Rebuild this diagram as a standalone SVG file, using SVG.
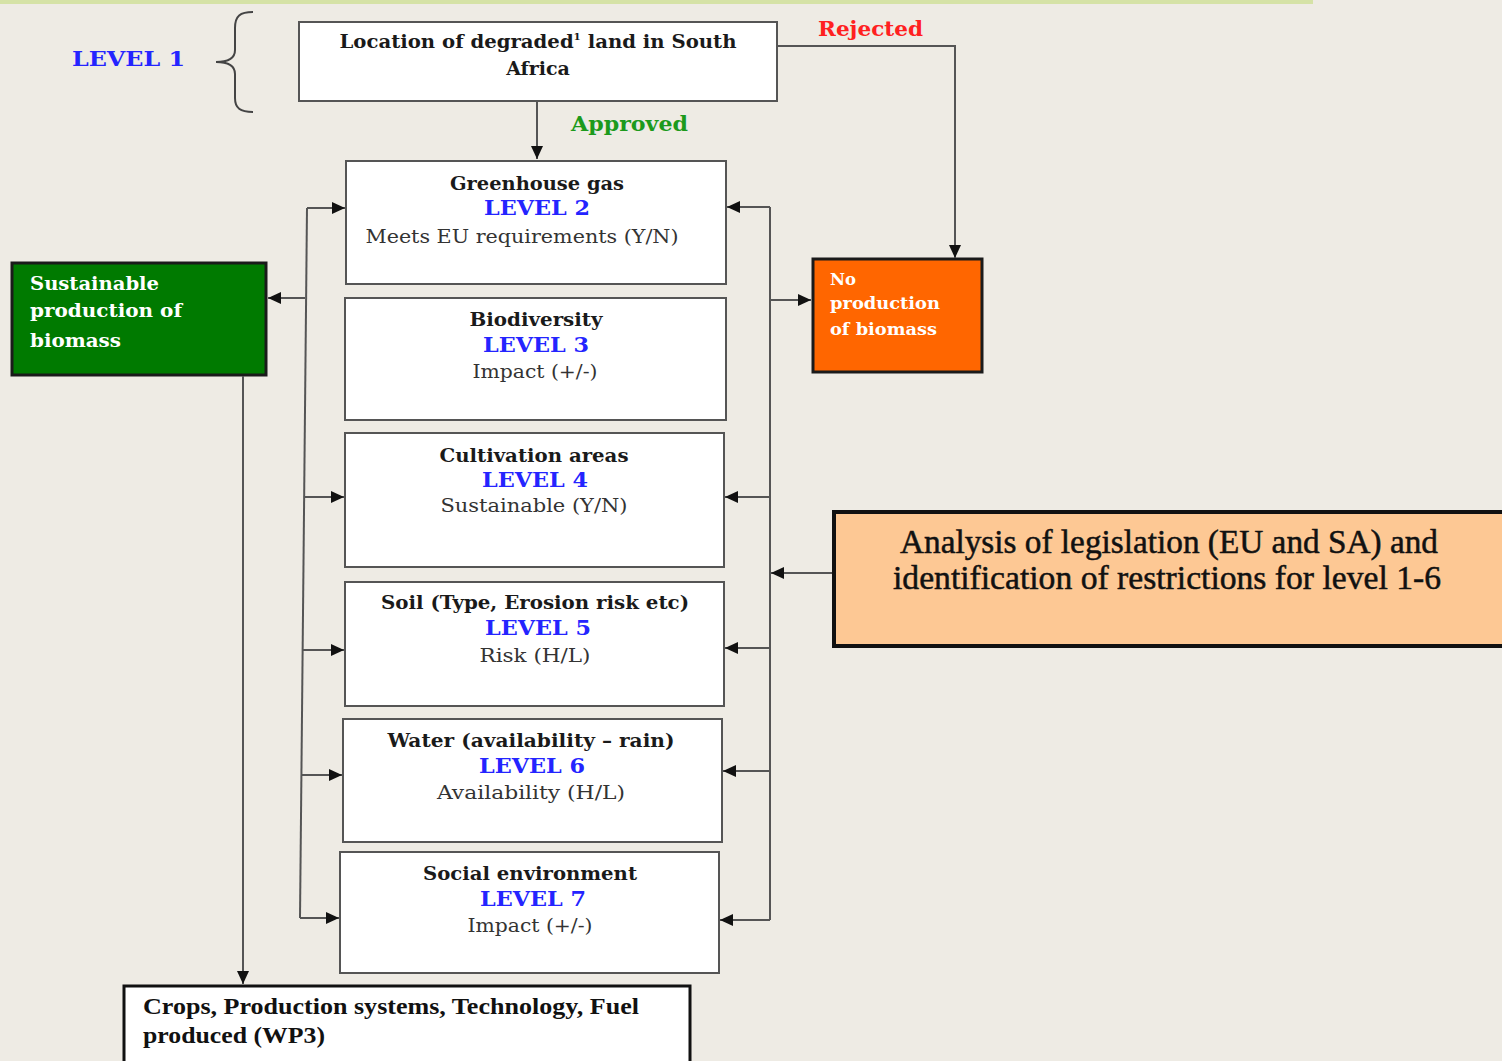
<svg xmlns="http://www.w3.org/2000/svg" width="1502" height="1061" viewBox="0 0 1502 1061">
<defs>
<marker id="ah" markerUnits="userSpaceOnUse" markerWidth="14" markerHeight="12" refX="13" refY="6" orient="auto">
<path d="M0,0 L13,6 L0,12 Z" fill="#111"/>
</marker>
<style>
.bx{fill:#fff;stroke:#555;stroke-width:2}
.t{font-family:"DejaVu Serif","Liberation Serif",serif;font-weight:bold;font-size:19px;fill:#1a1a1a;text-anchor:middle}
.lv{font-family:"DejaVu Serif","Liberation Serif",serif;font-weight:bold;font-size:20px;fill:#2424ff;text-anchor:middle}
.s{font-family:"DejaVu Serif","Liberation Serif",serif;font-size:19px;fill:#333;text-anchor:middle}
.c{fill:none;stroke:#555;stroke-width:2}
.ca{fill:none;stroke:#555;stroke-width:2;marker-end:url(#ah)}
</style>
</defs>
<rect width="1502" height="1061" fill="#eeebe4"/>
<rect x="0" y="0" width="1313" height="4" fill="#d5e2a6"/>

<g id="level1-label">
<text x="72" y="66" font-family="DejaVu Serif,serif" font-weight="bold" font-size="21" fill="#2424ff" textLength="113" lengthAdjust="spacingAndGlyphs">LEVEL 1</text>
<path d="M253,12 C240,12 235,16 235,28 L235,50 C235,58 228,62 216,62 C228,62 235,66 235,74 L235,98 C235,108 240,112 253,112" fill="none" stroke="#444" stroke-width="2"/>
</g>

<g id="n-location">
<rect class="bx" x="299" y="22" width="478" height="79"/>
<text class="t" x="538" y="48" textLength="397" lengthAdjust="spacingAndGlyphs">Location of degraded<tspan font-size="10" dy="-8">1</tspan><tspan dy="8"> land in South</tspan></text>
<text class="t" x="538" y="75">Africa</text>
</g>

<g id="labels">
<text x="818" y="36" font-family="DejaVu Serif,serif" font-weight="bold" font-size="20" fill="#ff2020" textLength="105" lengthAdjust="spacingAndGlyphs">Rejected</text>
<text x="571" y="131" font-family="DejaVu Serif,serif" font-weight="bold" font-size="20" fill="#1c9a1c" textLength="117" lengthAdjust="spacingAndGlyphs">Approved</text>
</g>

<g id="n-level2">
<rect class="bx" x="346" y="161" width="380" height="123"/>
<text class="t" x="537" y="190" textLength="174" lengthAdjust="spacingAndGlyphs">Greenhouse gas</text>
<text class="lv" x="537" y="215" textLength="106" lengthAdjust="spacingAndGlyphs">LEVEL 2</text>
<text class="s" x="522" y="243" textLength="313" lengthAdjust="spacingAndGlyphs">Meets EU requirements (Y/N)</text>
</g>

<g id="n-level3">
<rect class="bx" x="345" y="298" width="381" height="122"/>
<text class="t" x="536" y="326" textLength="133" lengthAdjust="spacingAndGlyphs">Biodiversity</text>
<text class="lv" x="536" y="352" textLength="106" lengthAdjust="spacingAndGlyphs">LEVEL 3</text>
<text class="s" x="535" y="378" textLength="125" lengthAdjust="spacingAndGlyphs">Impact (+/-)</text>
</g>

<g id="n-level4">
<rect class="bx" x="345" y="433" width="379" height="134"/>
<text class="t" x="534" y="462" textLength="189" lengthAdjust="spacingAndGlyphs">Cultivation areas</text>
<text class="lv" x="535" y="487" textLength="106" lengthAdjust="spacingAndGlyphs">LEVEL 4</text>
<text class="s" x="534" y="512" textLength="187" lengthAdjust="spacingAndGlyphs">Sustainable (Y/N)</text>
</g>

<g id="n-level5">
<rect class="bx" x="345" y="582" width="379" height="124"/>
<text class="t" x="535" y="609" textLength="308" lengthAdjust="spacingAndGlyphs">Soil (Type, Erosion risk etc)</text>
<text class="lv" x="538" y="635" textLength="106" lengthAdjust="spacingAndGlyphs">LEVEL 5</text>
<text class="s" x="535" y="662" textLength="111" lengthAdjust="spacingAndGlyphs">Risk (H/L)</text>
</g>

<g id="n-level6">
<rect class="bx" x="343" y="719" width="379" height="123"/>
<text class="t" x="531" y="747" textLength="287" lengthAdjust="spacingAndGlyphs">Water (availability – rain)</text>
<text class="lv" x="532" y="773" textLength="106" lengthAdjust="spacingAndGlyphs">LEVEL 6</text>
<text class="s" x="531" y="799" textLength="188" lengthAdjust="spacingAndGlyphs">Availability (H/L)</text>
</g>

<g id="n-level7">
<rect class="bx" x="340" y="852" width="379" height="121"/>
<text class="t" x="530" y="880" textLength="214" lengthAdjust="spacingAndGlyphs">Social environment</text>
<text class="lv" x="533" y="906" textLength="106" lengthAdjust="spacingAndGlyphs">LEVEL 7</text>
<text class="s" x="530" y="932" textLength="125" lengthAdjust="spacingAndGlyphs">Impact (+/-)</text>
</g>

<g id="n-sustainable">
<rect x="12" y="263" width="254" height="112" fill="#007a00" stroke="#1a1a1a" stroke-width="3"/>
<g font-family="DejaVu Serif,serif" font-weight="bold" font-size="19" fill="#fff">
<text x="30" y="290" textLength="129" lengthAdjust="spacingAndGlyphs">Sustainable</text>
<text x="30" y="317" textLength="152" lengthAdjust="spacingAndGlyphs">production of</text>
<text x="30" y="347" textLength="91" lengthAdjust="spacingAndGlyphs">biomass</text>
</g>
</g>

<g id="n-noproduction">
<rect x="813" y="259" width="169" height="113" fill="#ff6600" stroke="#1a1a1a" stroke-width="3"/>
<g font-family="DejaVu Serif,serif" font-weight="bold" font-size="16" fill="#fff">
<text x="830" y="285" textLength="26" lengthAdjust="spacingAndGlyphs">No</text>
<text x="830" y="309" textLength="110" lengthAdjust="spacingAndGlyphs">production</text>
<text x="830" y="335" textLength="107" lengthAdjust="spacingAndGlyphs">of biomass</text>
</g>
</g>

<g id="n-analysis">
<rect x="834" y="512" width="672" height="134" fill="#fdc894" stroke="#111" stroke-width="4"/>
<g font-family="Liberation Serif,serif" font-size="34" fill="#111" stroke="#111" stroke-width="0.5" text-anchor="middle">
<text x="1169" y="553" textLength="538" lengthAdjust="spacingAndGlyphs">Analysis of legislation (EU and SA) and</text>
<text x="1167" y="589" textLength="548" lengthAdjust="spacingAndGlyphs">identification of restrictions for level 1-6</text>
</g>
</g>

<g id="n-wp3">
<rect x="124" y="986" width="566" height="80" fill="#fff" stroke="#111" stroke-width="3"/>
<g font-family="Liberation Serif,serif" font-weight="bold" font-size="24" fill="#111">
<text x="143" y="1014" textLength="496" lengthAdjust="spacingAndGlyphs">Crops, Production systems, Technology, Fuel</text>
<text x="143" y="1043" textLength="182" lengthAdjust="spacingAndGlyphs">produced (WP3)</text>
</g>
</g>

<g id="connectors">
<path class="ca" d="M777,46 H955 V258"/>
<path class="ca" d="M537,101 V159"/>
<path class="c" d="M307,208 L300,918"/>
<path class="ca" d="M307,208 H345"/>
<path class="ca" d="M305,298 H268"/>
<path class="ca" d="M304,497 H344"/>
<path class="ca" d="M303,650 H344"/>
<path class="ca" d="M302,775 H342"/>
<path class="ca" d="M300,918 H339"/>
<path class="c" d="M770,207 V920"/>
<path class="ca" d="M770,207 H727"/>
<path class="ca" d="M770,300 H811"/>
<path class="ca" d="M770,497 H725"/>
<path class="ca" d="M770,648 H725"/>
<path class="ca" d="M770,771 H723"/>
<path class="ca" d="M770,920 H720"/>
<path class="ca" d="M832,573 H771"/>
<path class="ca" d="M243,376 V984"/>
</g>
</svg>
